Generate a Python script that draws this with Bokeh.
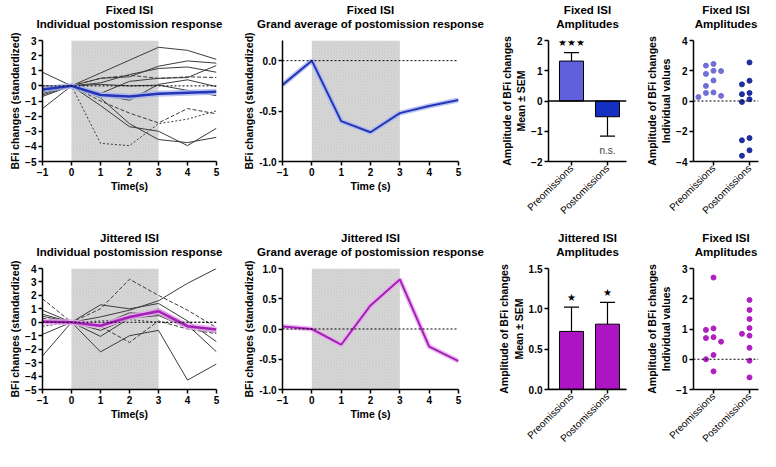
import math
from bokeh.plotting import figure
from bokeh.layouts import row, column
from bokeh.models import Range1d, FixedTicker, BoxAnnotation, Span, NumeralTickFormatter
from bokeh.core.properties import value
from bokeh.embed import file_html
from bokeh.resources import INLINE

# ---------------- data ----------------
TIME = [-1, 0, 1, 2, 3, 4, 5]

FIXED_SUBJECTS = [
    [0.90, 0, 0.85, 1.70, 2.55, 2.35, 1.75],
    [-0.10, 0, 0.50, 0.60, 1.30, 1.65, 1.50],
    [-0.30, 0, 0.20, 0.75, 1.15, 1.25, 0.90],
    [-0.50, 0, -0.50, 0.30, 0.50, 0.55, 1.35],
    [-0.20, 0, 0.50, 0.70, 0.50, 0.60, 0.55],
    [-0.70, 0, -0.60, -0.95, 0.10, 0.40, -0.05],
    [-1.50, 0, -1.30, -2.70, -3.00, -3.95, -2.80],
    [-0.20, 0, -3.80, -3.95, -2.50, -2.20, -1.65],
    [-0.40, 0, -1.00, -1.80, -2.45, -1.50, -1.85],
    [-0.60, 0, -0.80, -2.50, -3.55, -3.75, -3.40],
    [0.00, 0, 0.10, 0.00, 0.05, -0.30, -0.65],
]
FIXED_MEAN = [-0.24, 0, -0.60, -0.71, -0.52, -0.45, -0.39]

JITTER_SUBJECTS = [
    [1.75, 0, 1.00, 3.20, 2.00, 0.90, -0.40],
    [-2.50, 0, 0.40, 0.90, 1.60, 2.90, 4.00],
    [0.90, 0, -2.20, -1.00, -0.60, -4.30, -3.10],
    [-0.90, 0, -1.05, 0.30, 1.00, -0.20, -2.20],
    [0.60, 0, 1.30, 1.00, 1.40, 0.10, -1.45],
    [0.30, 0, -0.30, -1.50, 0.10, -0.50, -0.85],
    [-0.30, 0, 0.10, 0.20, 0.00, 0.00, 0.00],
    [0.45, 0, -0.20, 0.70, 0.60, -0.30, -0.75],
    [0.15, 0, -0.60, 0.30, 0.50, -0.40, -0.50],
]
JITTER_MEAN = [0.04, 0, -0.26, 0.39, 0.82, -0.29, -0.53]

CATEGORIES = ["Preomissions", "Postomissions"]
FIXED_BAR_MEAN = [1.32, -0.52]
FIXED_BAR_SEM = [0.28, 0.64]
FIXED_SIG = ["★★★", "n.s."]
JITTER_BAR_MEAN = [0.72, 0.81]
JITTER_BAR_SEM = [0.30, 0.27]
JITTER_SIG = ["★", "★"]

FIXED_PRE = [2.45, 2.34, 2.00, 1.98, 1.79, 1.36, 1.00, 0.57, 0.53, 0.34, 0.26]
FIXED_POST = [2.55, 1.34, 1.10, 0.45, 0.53, 0.11, -0.06, -2.45, -2.60, -3.26, -3.62]
JITTER_PRE = [2.70, 1.02, 0.97, 0.70, 0.73, 0.58, 0.14, 0.00, -0.40]
JITTER_POST = [1.96, 1.63, 1.33, 1.03, 0.84, 0.78, 0.38, -0.05, -0.60]

TITLES_TOP = [("Fixed ISI", "Individual postomission response"),
              ("Fixed ISI", "Grand average of postomission response"),
              ("Fixed ISI", "Amplitudes"),
              ("Fixed ISI", "Amplitudes")]
TITLES_BOTTOM = [("Jittered ISI", "Individual postomission response"),
                 ("Jittered ISI", "Grand average of postomission response"),
                 ("Jittered ISI", "Amplitudes"),
                 ("Fixed ISI", "Amplitudes")]

OMISSION_WINDOW = (0, 3)

# ---------------- styles ----------------
FONT = "Liberation Sans"
LINE_GREY = "#3c3c3c"
FIXED_DASHES = ["solid", "solid", "solid", "solid", "4 2", "solid",
                "solid", "2 2", "4 2", "solid", "solid"]
JITTER_DASHES = ["4 2", "solid", "solid", "solid", "solid", "4 2",
                 "2 2", "solid", "solid"]
BLUE = "#2436b8"
BLUE_HALO = "#aab4ee"
PURPLE = "#a320b5"
PURPLE_HALO = "#eaaaf0"
PRE_BAR = "#6060dc"
POST_BAR = "#1530c0"
MAG_BAR = "#ad14c3"
PRE_DOT = "#6f6fd6"
POST_DOT = "#1f2e9e"
MAG_DOT = "#b01fc0"

# layout
PLOT_H = 190
FRAME_H = 121
BORDER_TB = (8, 61)
TITLE_H = (32, 38)
TITLE_LINE_Y = (23, 9)   # text centres measured from the bottom of a title strip
W = [236, 250, 152, 122]
LR = [(42, 20), (46, 28), (62, 12), (55, 2)]
X_BAR = (0.361, 2.528)
X_DOT = (0.444, 2.25)


def style_axes(p):
    p.outline_line_color = None
    p.xgrid.visible = False
    p.ygrid.visible = False
    for ax in list(p.xaxis) + list(p.yaxis):
        ax.axis_line_width = 1.5
        ax.axis_line_color = "black"
        ax.major_tick_line_width = 1.5
        ax.major_tick_line_color = "black"
        ax.major_tick_out = 4
        ax.major_tick_in = 0
        ax.minor_tick_line_color = None
        ax.major_label_text_font = FONT
        ax.major_label_text_font_style = "bold"
        ax.major_label_text_font_size = "10px"
        ax.major_label_text_color = "black"
        ax.axis_label_text_font = FONT
        ax.axis_label_text_font_style = "bold"
        ax.axis_label_text_font_size = "10.5px"
        ax.axis_label_text_color = "black"
        ax.axis_label_standoff = 1
        ax.major_label_standoff = 2


def title_fig(col, height, lines):
    w = W[col]
    left, right = LR[col]
    t = figure(width=w, height=height, x_range=Range1d(0, w),
               y_range=Range1d(0, height), x_axis_location=None,
               y_axis_location=None, min_border=0, toolbar_location=None,
               output_backend="svg", title=None)
    t.outline_line_color = None
    t.xgrid.visible = False
    t.ygrid.visible = False
    cx = (left + (w - right)) / 2.0
    t.text(x=[cx, cx], y=list(TITLE_LINE_Y), text=list(lines),
           text_align="center", text_baseline="middle",
           text_font=value(FONT), text_font_style="bold",
           text_font_size="11.5px", text_color="black")
    return t


def make_fig(col, xr, yr):
    left, right = LR[col]
    top, bottom = BORDER_TB
    p = figure(width=W[col], height=PLOT_H, x_range=Range1d(*xr),
               y_range=Range1d(*yr), output_backend="svg", toolbar_location=None,
               title=None, min_border_left=left, min_border_right=right,
               min_border_top=top, min_border_bottom=bottom)
    style_axes(p)
    return p


def shade(p):
    box = BoxAnnotation(left=OMISSION_WINDOW[0], right=OMISSION_WINDOW[1],
                        fill_color="#d8d8d8", fill_alpha=1.0,
                        hatch_pattern="diagonal_cross", hatch_scale=3,
                        hatch_color="#b8b8b8", hatch_alpha=0.6, hatch_weight=0.5,
                        line_color=None, level="underlay")
    p.add_layout(box)


def zero_line(p, dash="2 2", width=1.0):
    p.add_layout(Span(location=0, dimension="width", line_color="black",
                      line_dash=dash, line_width=width))


def individual_panel(yr, yticks, subjects, dashes, mean, col, halo):
    p = make_fig(0, (-1, 5), yr)
    shade(p)
    zero_line(p)
    for ys, d in zip(subjects, dashes):
        p.line(TIME, ys, line_color=LINE_GREY, line_width=1, line_dash=d)
    p.line(TIME, mean, line_color=halo, line_width=6, line_alpha=0.8)
    p.line(TIME, mean, line_color=col, line_width=2.5)
    p.xaxis.ticker = FixedTicker(ticks=TIME)
    p.yaxis.ticker = FixedTicker(ticks=yticks)
    p.xaxis.axis_label = "Time(s)"
    p.yaxis.axis_label = "BFi changes (standardized)"
    return p


def mean_panel(yr, yticks, mean, col, halo):
    p = make_fig(1, (-1, 5), yr)
    shade(p)
    zero_line(p)
    p.line(TIME, mean, line_color=halo, line_width=5, line_alpha=0.8)
    p.line(TIME, mean, line_color=col, line_width=2)
    p.xaxis.ticker = FixedTicker(ticks=TIME)
    p.yaxis.ticker = FixedTicker(ticks=yticks)
    p.yaxis.formatter = NumeralTickFormatter(format="0.0")
    p.xaxis.axis_label = "Time (s)"
    p.yaxis.axis_label = "BFi changes (standardized)"
    return p


def category_axis(p):
    p.xaxis.ticker = FixedTicker(ticks=[1, 2])
    p.xaxis.major_label_overrides = {1: CATEGORIES[0], 2: CATEGORIES[1]}
    p.xaxis.major_label_orientation = math.pi / 4
    p.xaxis.major_label_text_font_style = "normal"
    p.xaxis.major_label_text_font_size = "10px"
    p.xaxis.major_label_standoff = 1


def bar_panel(yr, yticks, means, sems, sig, colors, fmt=None):
    p = make_fig(2, X_BAR, yr)
    xs = [1, 2]
    p.vbar(x=xs, top=means, bottom=0, width=0.667, fill_color=colors,
           line_color="black", line_width=1)
    ends = [m + (s if m >= 0 else -s) for m, s in zip(means, sems)]
    p.segment(x0=xs, y0=means, x1=xs, y1=ends, line_color="black", line_width=1.2)
    p.segment(x0=[x - 0.21 for x in xs], y0=ends, x1=[x + 0.21 for x in xs],
              y1=ends, line_color="black", line_width=1.2)
    zero_line(p, dash="solid", width=1.5)
    star = [i for i, s in enumerate(sig) if "★" in s]
    ns = [i for i, s in enumerate(sig) if "★" not in s]
    if star:
        p.text(x=[xs[i] for i in star], y=[ends[i] for i in star],
               text=[sig[i] for i in star], text_align="center",
               text_baseline="middle", y_offset=-10,
               text_font=value("DejaVu Sans"), text_font_size="10px",
               text_color="black")
    if ns:
        p.text(x=[xs[i] for i in ns], y=[ends[i] for i in ns],
               text=[sig[i] for i in ns], text_align="center",
               text_baseline="middle", y_offset=14,
               text_font=value(FONT), text_font_size="10px",
               text_color="#444444")
    category_axis(p)
    p.yaxis.ticker = FixedTicker(ticks=yticks)
    if fmt:
        p.yaxis.formatter = NumeralTickFormatter(format=fmt)
    p.yaxis.axis_label = "Amplitude of BFi changes\nMean ± SEM"
    return p


def swarm(vals, px_per_unit, step=0.21, min_px=6.0):
    order = sorted(range(len(vals)), key=lambda i: -vals[i])
    placed = []
    offs = [0.0] * len(vals)
    for i in order:
        chosen = 0
        for c in [0, -1, 1, -2, 2]:
            if all(not (pc == c and abs(vals[i] - pv) * px_per_unit < min_px)
                   for pc, pv in placed):
                chosen = c
                break
        offs[i] = chosen * step
        placed.append((chosen, vals[i]))
    return offs


def dot_panel(yr, yticks, groups, colors):
    p = make_fig(3, X_DOT, yr)
    zero_line(p)
    ppu = FRAME_H / (yr[1] - yr[0])
    for k, (vals, col) in enumerate(zip(groups, colors)):
        offs = swarm(vals, ppu)
        p.scatter([k + 1 + o for o in offs], vals, size=5, fill_color=col,
                  line_color=col)
    category_axis(p)
    p.yaxis.ticker = FixedTicker(ticks=yticks)
    p.yaxis.axis_label = "Amplitude of BFi changes\nIndividual values"
    return p


p1 = individual_panel((-5, 3), list(range(-5, 4)), FIXED_SUBJECTS, FIXED_DASHES,
                      FIXED_MEAN, BLUE, BLUE_HALO)
p2 = mean_panel((-1.0, 0.2), [-1.0, -0.5, 0.0], FIXED_MEAN, BLUE, BLUE_HALO)
p3 = bar_panel((-2, 2), [-2, -1, 0, 1, 2], FIXED_BAR_MEAN, FIXED_BAR_SEM,
               FIXED_SIG, [PRE_BAR, POST_BAR])
p4 = dot_panel((-4, 4), [-4, -2, 0, 2, 4], [FIXED_PRE, FIXED_POST],
               [PRE_DOT, POST_DOT])

p5 = individual_panel((-5, 4), list(range(-5, 5)), JITTER_SUBJECTS, JITTER_DASHES,
                      JITTER_MEAN, PURPLE, PURPLE_HALO)
p6 = mean_panel((-1.0, 1.0), [-1.0, -0.5, 0.0, 0.5, 1.0], JITTER_MEAN,
                PURPLE, PURPLE_HALO)
p7 = bar_panel((0, 1.5), [0.0, 0.5, 1.0, 1.5], JITTER_BAR_MEAN, JITTER_BAR_SEM,
               JITTER_SIG, [MAG_BAR, MAG_BAR], fmt="0.0")
p8 = dot_panel((-1, 3), [-1, 0, 1, 2, 3], [JITTER_PRE, JITTER_POST],
               [MAG_DOT, MAG_DOT])

top_titles = [title_fig(i, TITLE_H[0], TITLES_TOP[i]) for i in range(4)]
bottom_titles = [title_fig(i, TITLE_H[1], TITLES_BOTTOM[i]) for i in range(4)]

layout = column(row(*top_titles), row(p1, p2, p3, p4),
                row(*bottom_titles), row(p5, p6, p7, p8))

with open("out.html", "w") as f:
    f.write(file_html(layout, INLINE))
